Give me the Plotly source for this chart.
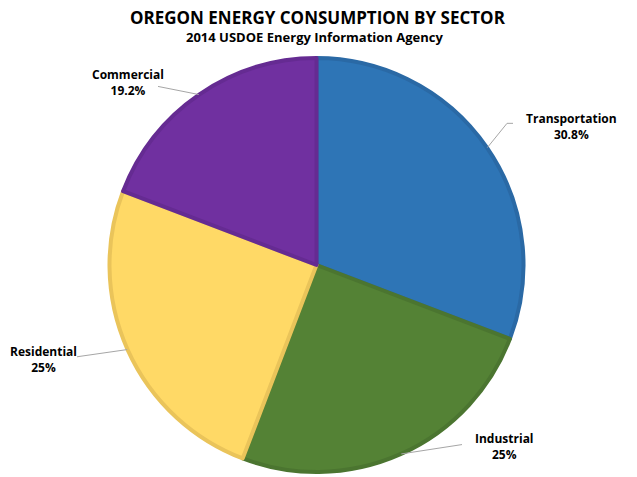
import numpy as np
import plotly.graph_objects as go

sectors = ["Transportation", "Industrial", "Residential", "Commercial"]
shares = [30.8, 25, 25, 19.2]
share_labels = ["30.8%", "25%", "25%", "19.2%"]
fill_colors = ["#2E75B6", "#548235", "#FFD966", "#7030A0"]
edge_colors = ["#2A69A5", "#4B7530", "#EAC45A", "#652B92"]

OFF = 8  # page body margin
W, H = 637 - OFF, 477 - OFF
CXW, CYW, R = 316.5, 265, 207.5  # pie centre in window pixels
ML, MR = 0, int(round(W - 2 * (CXW - OFF)))
MT = CYW - OFF - R
MB = H - (CYW - OFF + R)

# label text centres and leader-line label-side points (window pixels)
label_pos = [(571, 126), (504, 447), (43, 360), (128, 82)]
line_end = [[(507, 123), (513, 123)], [(462, 445)], [(77, 357)], [(158, 86)]]

def px(x):
    return (x - OFF - ML) / (W - ML - MR)

def py(y):
    return (H - MB - (y - OFF)) / (H - MT - MB)

fig = go.Figure(go.Pie(
    labels=sectors, values=shares, sort=False, direction="clockwise",
    rotation=0, textinfo="none", hoverinfo="label+percent",
    marker=dict(colors=fill_colors, line=dict(color=edge_colors, width=4)),
    showlegend=False,
))

cum = np.cumsum([0] + shares[:-1])
tot = sum(shares)
shapes = []
annotations = []
for i, s in enumerate(sectors):
    mid = (cum[i] + shares[i] / 2) / tot * 2 * np.pi
    pts = [(CXW + R * np.sin(mid), CYW - R * np.cos(mid))] + line_end[i]
    for (x0, y0), (x1, y1) in zip(pts[:-1], pts[1:]):
        shapes.append(dict(type="line", xref="paper", yref="paper",
                           x0=px(x0), y0=py(y0), x1=px(x1), y1=py(y1),
                           line=dict(color="#A6A6A6", width=1)))
    lx, ly = label_pos[i]
    annotations.append(dict(x=px(lx), y=py(ly), xref="paper", yref="paper",
                            xanchor="center", yanchor="middle",
                            text=f"<b>{s}<br>{share_labels[i]}</b>", showarrow=False,
                            font=dict(size=12, color="#000000", family="Open Sans"),
                            align="center"))

annotations.append(dict(x=px(318), y=py(17), xref="paper", yref="paper",
                        xanchor="center", yanchor="middle",
                        text="<b>OREGON ENERGY CONSUMPTION BY SECTOR</b>", showarrow=False,
                        font=dict(size=17, color="#000000", family="Open Sans")))
annotations.append(dict(x=px(315), y=py(36), xref="paper", yref="paper",
                        xanchor="center", yanchor="middle",
                        text="<b>2014 USDOE Energy Information Agency</b>", showarrow=False,
                        font=dict(size=13, color="#000000", family="Open Sans")))

fig.update_layout(
    width=W, height=H,
    margin=dict(l=ML, r=MR, t=MT, b=MB, pad=0),
    paper_bgcolor="white", plot_bgcolor="white",
    shapes=shapes, annotations=annotations,
)
fig.write_html("out.html")
